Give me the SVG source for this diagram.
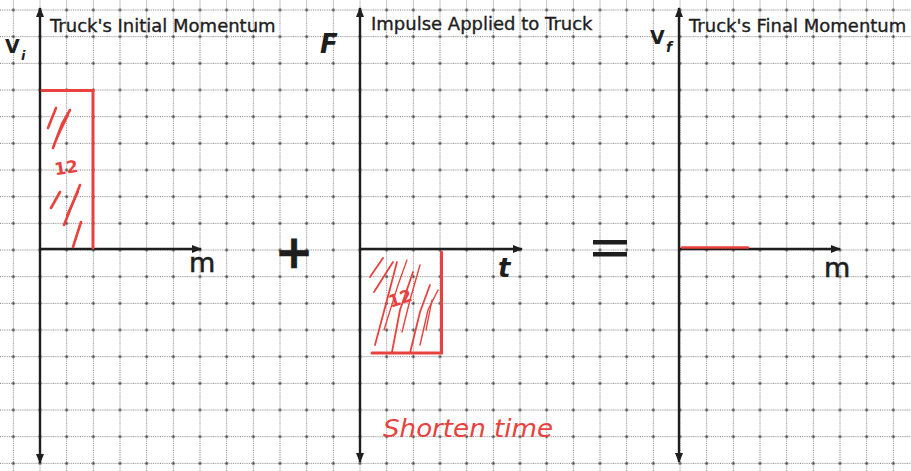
<svg xmlns="http://www.w3.org/2000/svg" width="911" height="471" viewBox="0 0 911 471">
<style>
.title{font-family:"DejaVu Sans","Liberation Sans",sans-serif;font-size:18px;fill:#1e1e1e;stroke:#1e1e1e;stroke-width:0.35}
.lbl{font-family:"DejaVu Sans","Liberation Sans",sans-serif;fill:#1e1e1e}
.heavy{stroke:#1e1e1e;stroke-width:0.6}
.axis{stroke:#1e1e1e;stroke-width:2.4;fill:none}
.red{stroke:#e8423e;fill:none;stroke-linecap:round}
.redt{font-family:"DejaVu Sans","Liberation Sans",sans-serif;fill:#e8423e}
</style>
<defs>
<pattern id="grid" x="0" y="-3.333" width="26.667" height="26.667" patternUnits="userSpaceOnUse">
<line x1="13.333" y1="0" x2="13.333" y2="26.667" stroke="#7a7a7a" stroke-width="1" stroke-dasharray="1 1.2"/>
<line x1="0" y1="13.333" x2="26.667" y2="13.333" stroke="#7a7a7a" stroke-width="1" stroke-dasharray="1 1.2"/>
<rect x="12.2" y="12.2" width="2.3" height="2.3" fill="#3a3a3a"/>
</pattern>
<marker id="arr" viewBox="0 0 10 8" refX="9" refY="4" markerWidth="10" markerHeight="8" markerUnits="userSpaceOnUse" orient="auto-start-reverse">
<path d="M0,0 L10,4 L0,8 z" fill="#1e1e1e"/>
</marker>
</defs>
<rect width="911" height="471" fill="#ffffff"/>
<rect width="911" height="471" fill="url(#grid)"/>

<g id="connectors">
<line class="axis" x1="40" y1="463" x2="40" y2="8" marker-start="url(#arr)" marker-end="url(#arr)"/>
<line class="axis" x1="40" y1="249" x2="201" y2="249" stroke-width="2" marker-end="url(#arr)"/>
<line class="axis" x1="360" y1="462" x2="360" y2="8" marker-start="url(#arr)" marker-end="url(#arr)"/>
<line class="axis" x1="360" y1="249" x2="522" y2="249" stroke-width="2" marker-end="url(#arr)"/>
<line class="axis" x1="679" y1="462" x2="679" y2="8" marker-start="url(#arr)" marker-end="url(#arr)"/>
<line class="axis" x1="679" y1="249" x2="840" y2="249" stroke-width="2" marker-end="url(#arr)"/>
</g>

<g id="initial-momentum">
<text class="title" x="50" y="32">Truck's Initial Momentum</text>
<text class="lbl" x="5" y="53" font-size="19" font-weight="bold">V</text>
<text class="lbl" x="21" y="60" font-size="13" font-style="italic" font-weight="bold">i</text>
<text class="lbl heavy" x="189" y="272" font-size="27">m</text>
<path class="red" stroke-width="3" d="M42,90.5 L93,90.5 L93,248"/>
<g class="red" stroke-width="2.6">
<path d="M48,128 L56,108"/>
<path d="M53,148 L62,124 L70,110"/>
<path d="M56,140 L68,115" stroke-width="2"/>
<path d="M51,208 L60,192"/>
<path d="M64,225 L80,185"/>
<path d="M67,215 L78,192" stroke-width="2"/>
<path d="M73,247 L81,222"/>
</g>
<text class="redt" x="54" y="174" font-size="17" font-weight="bold" transform="rotate(-8 63 166)">12</text>
</g>

<g id="plus">
<text class="lbl heavy" x="294" y="268" font-size="46" font-weight="bold" text-anchor="middle">+</text>
</g>

<g id="impulse">
<text class="title" x="371" y="30">Impulse Applied to Truck</text>
<text class="lbl" x="320" y="53" font-size="26" font-style="italic" font-weight="bold">F</text>
<text class="lbl" x="498" y="277" font-size="26" font-style="italic" font-weight="bold">t</text>
<path class="red" stroke-width="3" d="M441.5,252 L441.5,353 L372,353"/>
<g class="red" stroke-width="1.8">
<path d="M370,277 L383,258"/>
<path d="M374,292 L393,262"/>
<path d="M375,345 L387,300 L397,262"/>
<path d="M384,330 L398,285 L407,260" stroke-width="1.3"/>
<path d="M392,352 L400,310 L413,272"/>
<path d="M402,332 L410,300 L420,265" stroke-width="1.4"/>
<path d="M410,353 L420,312 L430,285"/>
<path d="M420,345 L428,310 L438,290" stroke-width="1.4"/>
<path d="M426,330 L432,300" stroke-width="1.3"/>
</g>
<text class="redt" x="388" y="305" font-size="17" font-weight="bold" transform="rotate(-18 398 298)">12</text>
<text class="redt" x="383" y="437" font-size="25" font-style="italic" textLength="170" lengthAdjust="spacingAndGlyphs">Shorten time</text>
</g>

<g id="equals">
<rect x="593" y="240" width="34" height="4.5" fill="#1e1e1e"/>
<rect x="593" y="252" width="34" height="4.5" fill="#1e1e1e"/>
</g>

<g id="final-momentum">
<text class="title" x="689" y="31.5">Truck's Final Momentum</text>
<text class="lbl" x="650" y="44" font-size="19" font-weight="bold">V</text>
<text class="lbl" x="666" y="52" font-size="14" font-style="italic" font-weight="bold">f</text>
<text class="lbl heavy" x="824" y="277" font-size="27">m</text>
<line class="red" x1="682" y1="247.5" x2="748" y2="247.5" stroke-width="2.5"/>
</g>
</svg>
